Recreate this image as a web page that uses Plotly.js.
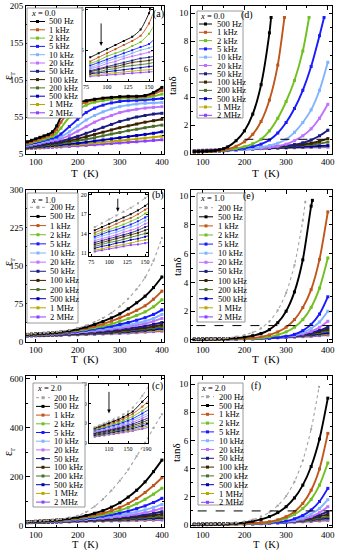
<!DOCTYPE html>
<html><head><meta charset="utf-8">
<script src="https://cdn.plot.ly/plotly-3.0.1.min.js"></script>
<style>html,body{margin:0;padding:0;background:#fff}#chart{width:337px;height:550px}</style>
</head><body><div id="chart"></div>
<script>
// ---------------- DATA ----------------
const T = [80,90,100,110,120,130,140,150,160,180,200,220,240,260,280,300,320,340,360,380,400];
const labelsA = ['500 Hz','1 kHz','2 kHz','5 kHz','10 kHz','20 kHz','50 kHz','100 kHz','200 kHz','500 kHz','1 MHz','2 MHz'];
const labelsBC = ['200 Hz','500 Hz','1 kHz','2 kHz','5 kHz','10 kHz','20 kHz','50 kHz','100 kHz','200 kHz','500 kHz','1 MHz','2 MHz'];
const compA = 'x = 0.0', compB = 'x = 1.0', compC = 'x = 2.0';

// (a) eps_r, x = 0.0
const epsA = [
 [21.5,23.5,25.5,27.5,29.5,31.5,35,43,55,66,74,77,79,80.5,81.5,82.5,83,83,84,88,95],
 [19.5,21.5,23.5,25.5,27.5,29.5,32,38,48,62,70,75,78,80,81,82,82,82,83,86,91],
 [18.5,20,22,23.5,25,27,29,33,40,55,65,71,75,77,79,80,80.5,80.5,81,83,86],
 [17.5,19,20.5,22,23.5,25,26.5,28,32,42,52,61,67,71,74,76,77,77.5,78,79,80],
 [16.5,18,19.5,21,22,23.5,25,26,28,35,43,51,57,62,66,69,71,72.5,73.5,74,74.5],
 [16,17,18.5,19.5,21,22,23,24,25.5,30,36,42,48,53,57,61,63.5,65.5,67,68,69],
 [15,16,17,18,19,20,21,21.5,22.5,25.5,29,33,37,41,45,49,52,55,57,59,60],
 [14.5,15.5,16.5,17,18,19,19.5,20,21,23,25.5,28.5,31.5,34.5,37.5,40.5,43,45.5,48,50,52],
 [14,14.5,15.5,16,17,17.5,18,18.5,19.5,21,23,25,27,29.5,32,34,36.5,38.5,40.5,42.5,44],
 [13.5,14,14.5,15,15.5,16,16.5,17,17.5,18.5,19.5,21,22.5,24,25.5,27,28.5,30,31.5,33,35],
 [12.8,13.2,13.6,14,14.4,14.8,15.2,15.5,16,16.8,17.7,18.7,19.8,21,22,23,24.2,25.4,26.5,27.7,29],
 [12.3,12.6,12.9,13.2,13.5,13.8,14.1,14.4,14.7,15.3,16,16.7,17.5,18.3,19.1,19.9,20.8,21.6,22.4,23.3,24.2]
];
// (d) tan delta, x = 0.0
const tanA = [
 [0.12,0.13,0.14,0.15,0.17,0.2,0.25,0.33,0.46,0.9,1.6,2.8,4.9,8.6],
 [0.1,0.11,0.12,0.13,0.15,0.17,0.2,0.24,0.3,0.5,0.82,1.36,2.27,3.8,6.3],
 [0.1,0.11,0.12,0.13,0.14,0.16,0.18,0.21,0.25,0.34,0.47,0.68,1.0,1.6,2.5,3.7,5.2,7.3],
 [0.1,0.11,0.12,0.13,0.14,0.15,0.17,0.19,0.22,0.28,0.36,0.48,0.65,0.95,1.45,2.2,3.2,4.5,6.2,8.4],
 [0.1,0.11,0.12,0.13,0.14,0.15,0.16,0.18,0.2,0.25,0.3,0.35,0.43,0.55,0.72,1.0,1.5,2.2,3.1,4.5,6.5],
 [0.1,0.11,0.12,0.13,0.14,0.15,0.16,0.17,0.19,0.23,0.27,0.32,0.36,0.42,0.5,0.65,0.9,1.25,1.75,2.5,3.5],
 [0.12,0.13,0.14,0.15,0.16,0.17,0.18,0.19,0.21,0.25,0.29,0.34,0.4,0.45,0.5,0.55,0.62,0.75,0.95,1.25,1.65],
 [0.13,0.14,0.15,0.16,0.17,0.18,0.19,0.2,0.22,0.26,0.3,0.35,0.39,0.43,0.48,0.52,0.57,0.63,0.72,0.86,1.05],
 [0.14,0.15,0.16,0.17,0.18,0.19,0.2,0.21,0.23,0.26,0.3,0.34,0.37,0.41,0.45,0.49,0.53,0.58,0.63,0.7,0.8],
 [0.15,0.16,0.17,0.18,0.19,0.2,0.21,0.22,0.23,0.26,0.28,0.31,0.34,0.36,0.39,0.41,0.44,0.46,0.49,0.52,0.55],
 [0.17,0.18,0.19,0.2,0.21,0.22,0.23,0.24,0.25,0.27,0.29,0.31,0.33,0.35,0.37,0.39,0.41,0.43,0.45,0.47,0.5],
 [0.2,0.21,0.22,0.23,0.24,0.25,0.26,0.27,0.28,0.3,0.32,0.33,0.35,0.36,0.38,0.39,0.4,0.41,0.42,0.43,0.45]
];
const tanEndA_T = [264,296,355,391,null,null,null,null,null,null,null,null];
const tanEndA_V = [9.7,9.7,9.7,9.7,null,null,null,null,null,null,null,null];

// (b) eps_r, x = 1.0
const epsB = [
 [15,15.6,16.2,16.8,17.4,18,18.7,19.5,20.5,23,27,32,39,47,57,70,85,104,127,160,205],
 [14.5,15,15.5,16,16.5,17,17.6,18.3,19.2,21.5,25,29,34,40,47,55,65,77,90,107,128],
 [14.1,14.6,15,15.5,16,16.4,17,17.7,18.4,20.5,23.5,26.5,30.5,35,40.5,47,54,62,71,84,100],
 [13.8,14.2,14.6,15,15.4,15.9,16.4,17.1,17.7,19.6,22,24.5,27.5,31,35,40,45.5,52,59,69,83],
 [13.5,13.9,14.3,14.6,15,15.4,15.9,16.5,17,18.6,20.5,22.5,25,27.5,30.5,34,38,42.5,47.5,54,63],
 [13.2,13.6,13.9,14.2,14.6,15,15.4,16,16.5,17.8,19.5,21,23,25,27.5,30,33,36.5,40.5,46,54],
 [12.9,13.2,13.5,13.8,14.2,14.5,14.9,15.5,15.9,17,18.4,19.7,21.2,23,24.9,27,29.5,32.5,36,40.5,46],
 [12.6,12.9,13.2,13.5,13.8,14.1,14.5,15,15.4,16.3,17.4,18.5,19.7,20.9,22.4,24,26,28.3,31,34.3,38],
 [12.3,12.6,12.9,13.2,13.5,13.8,14.1,14.5,14.9,15.7,16.6,17.5,18.5,19.6,20.8,22,23.6,25.4,27.6,30.1,33],
 [12,12.3,12.6,12.8,13.1,13.4,13.7,14,14.4,15.1,15.9,16.7,17.5,18.4,19.4,20.5,21.8,23.3,25,27,29],
 [11.7,12,12.2,12.5,12.7,13,13.2,13.5,13.8,14.4,15.1,15.8,16.5,17.2,18,19,20,21.2,22.6,24.2,26],
 [11.4,11.6,11.9,12.1,12.3,12.5,12.8,13,13.3,13.8,14.4,15,15.6,16.2,16.9,17.7,18.5,19.4,20.5,21.7,23],
 [11.2,11.4,11.6,11.8,12,12.2,12.3,12.5,12.7,13.2,13.7,14.2,14.7,15.3,15.9,16.5,17.2,18,18.9,19.9,21]
];
// (e) tan delta, x = 1.0
const tanB = [
 [0.05,0.05,0.06,0.06,0.07,0.08,0.09,0.11,0.14,0.23,0.35,0.52,0.81,1.29,2.06,3.27,5.2,8.3],
 [0.04,0.04,0.05,0.05,0.06,0.06,0.07,0.08,0.1,0.14,0.2,0.3,0.45,0.72,1.2,2.0,3.34,5.57,9.3],
 [0.03,0.03,0.04,0.04,0.05,0.05,0.06,0.06,0.07,0.09,0.11,0.15,0.22,0.35,0.56,0.89,1.42,2.25,3.5,5.6,8.9],
 [0.03,0.03,0.03,0.04,0.04,0.04,0.05,0.05,0.06,0.07,0.08,0.1,0.14,0.22,0.35,0.56,0.89,1.42,2.26,3.6,5.7],
 [0.03,0.03,0.03,0.03,0.04,0.04,0.04,0.05,0.05,0.06,0.07,0.08,0.1,0.12,0.17,0.25,0.39,0.65,1.08,1.8,3.0],
 [0.03,0.03,0.03,0.03,0.03,0.04,0.04,0.04,0.05,0.05,0.06,0.08,0.1,0.13,0.17,0.24,0.35,0.52,0.8,1.25,2.0],
 [0.03,0.03,0.03,0.03,0.03,0.04,0.04,0.04,0.05,0.05,0.06,0.08,0.1,0.13,0.16,0.22,0.3,0.42,0.6,0.88,1.3],
 [0.04,0.04,0.04,0.04,0.04,0.05,0.05,0.05,0.06,0.07,0.08,0.1,0.12,0.15,0.19,0.24,0.3,0.38,0.5,0.66,0.9],
 [0.04,0.04,0.05,0.05,0.05,0.05,0.06,0.06,0.07,0.08,0.09,0.11,0.13,0.16,0.2,0.25,0.3,0.37,0.46,0.58,0.75],
 [0.05,0.05,0.05,0.05,0.06,0.06,0.06,0.07,0.07,0.08,0.1,0.11,0.13,0.16,0.19,0.23,0.28,0.34,0.41,0.5,0.62],
 [0.05,0.05,0.05,0.06,0.06,0.06,0.07,0.07,0.08,0.09,0.1,0.11,0.13,0.15,0.18,0.21,0.26,0.3,0.35,0.42,0.5],
 [0.06,0.06,0.06,0.06,0.07,0.07,0.07,0.08,0.08,0.09,0.1,0.11,0.13,0.15,0.17,0.2,0.23,0.27,0.3,0.36,0.42],
 [0.06,0.06,0.07,0.07,0.07,0.07,0.08,0.08,0.08,0.09,0.1,0.11,0.12,0.14,0.16,0.18,0.2,0.23,0.26,0.3,0.35]
];
const tanEndB_T = [346,363,null,null,null,null,null,null,null,null,null,null,null];
const tanEndB_V = [9.6,9.7,null,null,null,null,null,null,null,null,null,null,null];

// (c) eps_r, x = 2.0
const epsC = [
 [18,19,20,21,22,23,24.5,26,28,34,42,57,80,110,145,185,230,285,340,400,456],
 [17.5,18.4,19.3,20.2,21.1,22,23.2,24.5,26,31,36,43,52,63,77,95,118,146,180,222,269],
 [17.2,18,18.8,19.6,20.4,21.2,22.3,23.5,24.8,28.5,33,38,45,53,63,76,92,112,137,165,197],
 [16.8,17.5,18.2,19,19.7,20.4,21.3,22.4,23.5,26.5,30,35,40,46,54,64,76,91,109,130,154],
 [16.4,17.1,17.7,18.4,19,19.7,20.5,21.4,22.4,25,28,31,35,40,46,53,61,71,82,96,113],
 [16,16.6,17.2,17.8,18.4,19,19.8,20.6,21.5,23.7,26,29,32,36,40,45,51,58,66,76,88],
 [15.6,16.2,16.7,17.3,17.8,18.4,19.1,19.8,20.6,22.6,25,27,29.5,32,35,39,43.5,49,55,63,72],
 [15.2,15.7,16.2,16.7,17.2,17.7,18.3,19,19.7,21.5,23.5,25,27,29,31.5,34,37.5,41.5,46,51.5,58],
 [14.8,15.3,15.8,16.2,16.7,17.2,17.7,18.3,18.9,20.5,22.5,24,25.5,27,29,31,33.5,36.5,40,44,48],
 [14.4,14.8,15.3,15.7,16.1,16.6,17.1,17.6,18.1,19.6,21.3,22.6,24,25.3,26.6,28,29.8,32,34.5,37,40],
 [14,14.4,14.8,15.2,15.6,16,16.4,16.9,17.4,18.7,20.2,21.4,22.6,23.6,24.6,25.5,27,28.5,30.3,32,34],
 [13.6,14,14.4,14.7,15.1,15.5,15.9,16.3,16.7,17.9,19.2,20.2,21,21.8,22.5,23,24.1,25.3,26.5,27.7,29],
 [13.2,13.6,13.9,14.3,14.6,15,15.4,15.8,16.2,17.2,18.3,19,19.6,20.2,20.6,21,21.8,22.6,23.5,24.2,25]
];
// (f) tan delta, x = 2.0
const tanC = [
 [0.05,0.05,0.06,0.06,0.07,0.07,0.08,0.09,0.11,0.16,0.25,0.39,0.6,0.9,1.38,2.05,3.07,4.57,6.8],
 [0.04,0.04,0.05,0.05,0.05,0.06,0.06,0.07,0.08,0.12,0.18,0.27,0.4,0.6,0.88,1.3,1.92,2.83,4.15,6.1,9.0],
 [0.03,0.03,0.04,0.04,0.04,0.05,0.05,0.05,0.06,0.08,0.1,0.13,0.16,0.23,0.37,0.59,0.95,1.53,2.47,3.98,6.5],
 [0.03,0.03,0.03,0.04,0.04,0.04,0.04,0.05,0.05,0.06,0.08,0.1,0.14,0.2,0.3,0.48,0.75,1.17,1.82,2.83,4.4],
 [0.03,0.03,0.03,0.03,0.04,0.04,0.04,0.04,0.05,0.06,0.07,0.08,0.11,0.14,0.19,0.28,0.44,0.68,1.07,1.67,2.6],
 [0.03,0.03,0.03,0.03,0.03,0.04,0.04,0.04,0.04,0.05,0.06,0.07,0.09,0.12,0.17,0.24,0.35,0.52,0.78,1.17,1.8],
 [0.03,0.03,0.03,0.03,0.03,0.04,0.04,0.04,0.04,0.05,0.06,0.07,0.09,0.12,0.16,0.22,0.3,0.42,0.6,0.88,1.3],
 [0.04,0.04,0.04,0.04,0.04,0.05,0.05,0.05,0.06,0.07,0.08,0.1,0.12,0.15,0.19,0.24,0.31,0.41,0.54,0.72,0.95],
 [0.04,0.04,0.05,0.05,0.05,0.05,0.06,0.06,0.07,0.08,0.09,0.11,0.13,0.16,0.19,0.23,0.3,0.38,0.48,0.6,0.75],
 [0.05,0.05,0.05,0.05,0.06,0.06,0.06,0.07,0.07,0.08,0.1,0.11,0.13,0.15,0.18,0.22,0.27,0.34,0.41,0.5,0.6],
 [0.05,0.05,0.05,0.06,0.06,0.06,0.07,0.07,0.08,0.09,0.1,0.11,0.13,0.15,0.17,0.2,0.25,0.3,0.36,0.43,0.5],
 [0.06,0.06,0.06,0.06,0.07,0.07,0.07,0.08,0.08,0.09,0.1,0.11,0.12,0.14,0.16,0.19,0.22,0.26,0.31,0.36,0.42],
 [0.06,0.06,0.07,0.07,0.07,0.07,0.08,0.08,0.08,0.09,0.1,0.11,0.12,0.13,0.15,0.17,0.2,0.23,0.26,0.3,0.34]
];
const tanEndC_T = [379,null,null,null,null,null,null,null,null,null,null,null,null];
const tanEndC_V = [9.8,null,null,null,null,null,null,null,null,null,null,null,null];

// ---------------- STYLE ----------------
const colorOf = {'200 Hz':'#a3a3a3','500 Hz':'#000000','1 kHz':'#c0561c','2 kHz':'#70c020','5 kHz':'#1a1aff',
 '10 kHz':'#80b4ff','20 kHz':'#c070ff','50 kHz':'#1c1c80','100 kHz':'#3a2200','200 kHz':'#4c6e28',
 '500 kHz':'#0000b8','1 MHz':'#b8a800','2 MHz':'#8a40ff'};
const F = '"Liberation Serif", "Times New Roman", serif';
const W = 337, H = 550;
const PX = x => x / W, PY = y => 1 - y / H;

const traces = [], shapes = [], annotations = [];
const layout = {width: W, height: H, margin:{l:0,r:0,t:0,b:0}, paper_bgcolor:'#fff', plot_bgcolor:'rgba(0,0,0,0)',
  showlegend:false, font:{family:F, color:'#000'}};

function axName(i, c){ return c + (i === 1 ? '' : i); }
function setAxes(i, xd, yd, xr, yr, xo, yo){
  const base = {showgrid:false, zeroline:false, showline:true, linecolor:'#000', linewidth:1, mirror:'ticks',
    ticks:'inside', ticklen:3.5, tickwidth:1, tickcolor:'#000', fixedrange:true,
    tickfont:{family:F, size:9, color:'#000'}};
  layout['xaxis' + (i===1?'':i)] = Object.assign({}, base, {domain:[PX(xd[0]),PX(xd[1])], range:xr, anchor:axName(i,'y')}, xo);
  layout['yaxis' + (i===1?'':i)] = Object.assign({}, base, {domain:[PY(yd[1]),PY(yd[0])], range:yr, anchor:axName(i,'x')}, yo);
}
function toPx(i, xv, yv){
  const xa = layout['xaxis' + i], ya = layout['yaxis' + i];
  const x0 = xa.domain[0]*W, x1 = xa.domain[1]*W, yt = (1-ya.domain[1])*H, yb = (1-ya.domain[0])*H;
  return [x0 + (xv - xa.range[0])/(xa.range[1]-xa.range[0])*(x1-x0), yb - (yv - ya.range[0])/(ya.range[1]-ya.range[0])*(yb-yt)];
}
function addSeries(i, data, labels, endT, endV, inset){
  for (let k = data.length - 1; k >= 0; k--) {
    const ys = data[k].slice(), xs = T.slice(0, ys.length);
    if (endT && endT[k] != null) { xs.push(endT[k]); ys.push(endV[k]); }
    const lab = labels[k], grey = lab === '200 Hz';
    traces.push({type:'scatter', mode:'lines+markers', x:xs, y:ys, xaxis:axName(i,'x'), yaxis:axName(i,'y'),
      hoverinfo:'skip', name:lab,
      line:{color:colorOf[lab], width: inset ? 0.9 : (grey ? 1.1 : 1.9), shape:'spline', smoothing:0.7, dash: grey ? 'dot' : 'solid'},
      marker:{color:colorOf[lab], size: inset ? 2 : (grey ? 2 : 3), symbol:'square'}});
  }
}
function addLegend(box, titleY, y0, step, lx0, lx1, tx, labels, title){
  shapes.push({type:'rect', xref:'paper', yref:'paper', x0:PX(box[0]), x1:PX(box[1]), y0:PY(box[3]), y1:PY(box[2]),
    line:{color:'#808080', width:0.8}, fillcolor:'#ffffff', layer:'above'});
  annotations.push({xref:'paper', yref:'paper', x:PX(box[0]+2.5), y:PY(titleY), xanchor:'left', yanchor:'middle', showarrow:false,
    borderpad:0, text:'<i>x</i>' + title.slice(1), font:{family:F, size:8.5, color:'#000'}});
  labels.forEach((lab, k) => {
    const y = y0 + k * step, c = colorOf[lab], mx = (lx0 + lx1) / 2;
    shapes.push({type:'line', xref:'paper', yref:'paper', x0:PX(lx0), x1:PX(lx1), y0:PY(y), y1:PY(y),
      line:{color:c, width:1, dash: lab === '200 Hz' ? 'dot' : 'solid'}, layer:'above'});
    shapes.push({type:'rect', xref:'paper', yref:'paper', x0:PX(mx-1.5), x1:PX(mx+1.5), y0:PY(y+1.5), y1:PY(y-1.5),
      line:{width:0}, fillcolor:c, layer:'above'});
    annotations.push({xref:'paper', yref:'paper', x:PX(tx), y:PY(y), xanchor:'left', yanchor:'middle', showarrow:false,
      borderpad:0, text:lab, font:{family:F, size:8.5, color:'#000'}});
  });
}
function txt(x, y, s, size, angle, anchor){
  annotations.push({xref:'paper', yref:'paper', x:PX(x), y:PY(y), xanchor:anchor||'center', yanchor:'middle', showarrow:false,
    text:s, textangle:angle||0, borderpad:0, font:{family:F, size:size, color:'#000'}});
}

// ---------------- PANELS ----------------
const LX = [26,164], RX = [191,332];
const R1 = [6,154], R2 = [190,342], R3 = [376,527];
const xMain = {tick0:0, dtick:100, ticklabelstandoff:-1, minor:{ticks:'inside', ticklen:2, tick0:0, dtick:50, tickcolor:'#000'}};
const yTan = {tick0:0, dtick:2, minor:{ticks:'inside', ticklen:2, tick0:0, dtick:1, tickcolor:'#000'}};

setAxes(1, LX, R1, [77,405], [5,205], xMain, {tick0:5, dtick:50, minor:{ticks:'inside', ticklen:2, tick0:5, dtick:25, tickcolor:'#000'}});
setAxes(2, RX, R1, [72,410], [-0.05,10.52], xMain, yTan);
setAxes(3, LX, R2, [77,405], [-0.6,300], xMain, {tick0:0, dtick:75, minor:{ticks:'inside', ticklen:2, tick0:0, dtick:37.5, tickcolor:'#000'}});
setAxes(4, RX, R2, [72,410], [-0.14,10.42], xMain, yTan);
setAxes(5, LX, R3, [77,405], [-4,612], xMain, {tick0:0, dtick:200, minor:{ticks:'inside', ticklen:2, tick0:0, dtick:100, tickcolor:'#000'}});
setAxes(6, RX, R3, [72,410], [-0.14,10.57], xMain, yTan);
// insets
const insetTick = {tickfont:{family:F, size:6, color:'#000'}, ticklen:2};
setAxes(7, [86,152.7], [8,81], [75,154.4], [10,45.5], Object.assign({tickvals:[75,100,125,150]}, insetTick), Object.assign({tickvals:[25,45]}, insetTick));
setAxes(8, [89,148], [193,256], [72,154], [10.5,20.3], Object.assign({tickvals:[75,100,125,150]}, insetTick), Object.assign({tickvals:[11,14,17,20]}, insetTick));
setAxes(9, [89,148], [384,443], [68,192], [10,40], Object.assign({tickvals:[110,150,190]}, insetTick), Object.assign({tickvals:[10,20,30,40]}, insetTick));

[[86,152.7,8,81],[89,148,193,256],[89,148,384,443]].forEach(b => shapes.push({type:'rect', xref:'paper', yref:'paper',
  x0:PX(b[0]), x1:PX(b[1]), y0:PY(b[3]), y1:PY(b[2]), line:{width:0}, fillcolor:'#fff', layer:'below'}));

addSeries(1, epsA, labelsA);
addSeries(2, tanA, labelsA, tanEndA_T, tanEndA_V);
addSeries(3, epsB, labelsBC);
addSeries(4, tanB, labelsBC, tanEndB_T, tanEndB_V);
addSeries(5, epsC, labelsBC);
addSeries(6, tanC, labelsBC, tanEndC_T, tanEndC_V);
addSeries(7, epsA, labelsA, null, null, true);
addSeries(8, epsB, labelsBC, null, null, true);
addSeries(9, epsC, labelsBC, null, null, true);

// tan delta = 1 reference lines
[[2,200],[4,85],[6,88]].forEach(p => shapes.push({type:'line', xref:axName(p[0],'x'), yref:axName(p[0],'y'),
  x0:p[1], x1:410, y0:1, y1:1, line:{color:'#000', width:1, dash:'dash'}}));

// inset arrows (drawn as shapes)
[[7,93,38,27],[8,112,19.4,17.4],[9,110,36,25]].forEach(a => {
  const top = toPx(a[0], a[1], a[2]), tip = toPx(a[0], a[1], a[3]);
  shapes.push({type:'line', xref:'paper', yref:'paper', x0:PX(top[0]), x1:PX(top[0]), y0:PY(top[1]), y1:PY(tip[1]-3),
    line:{color:'#000', width:0.9}, layer:'above'});
  shapes.push({type:'path', xref:'paper', yref:'paper', layer:'above', fillcolor:'#000', line:{width:0},
    path:'M'+PX(tip[0]-1.8)+','+PY(tip[1]-4)+' L'+PX(tip[0]+1.8)+','+PY(tip[1]-4)+' L'+PX(tip[0])+','+PY(tip[1])+' Z'});
});

// legends
addLegend([27,82,8,118], 13, 21.5, 8.3, 30, 45, 48, labelsA, compA);
addLegend([197,243,11,118], 16, 24, 8.3, 199, 212, 216, labelsA, compA);
addLegend([27,78,193,323], 200, 207.3, 9.14, 30, 46, 49, labelsBC, compB);
addLegend([197,245,193,322], 198, 207.7, 9.1, 199, 213, 217, labelsBC, compB);
addLegend([33,85,383,507], 388, 397.7, 8.7, 36, 50, 53, labelsBC, compC);
addLegend([198,243,383,505], 387.5, 396.7, 8.8, 201, 214, 218, labelsBC, compC);

// panel labels
txt(158, 14, '(a)', 10); txt(247, 15, '(d)', 10);
txt(158, 195, '(b)', 10); txt(248, 196, '(e)', 10);
txt(157, 386, '(c)', 10); txt(256, 386, '(f)', 10);

// axis titles
const TK = 'T\u00a0 (K)';
txt(85, 173, TK, 11); txt(266, 173, TK, 11);
txt(85, 359, TK, 11); txt(266, 359, TK, 11);
txt(85, 545, TK, 10.5); txt(266, 545, TK, 10.5);
txt(9, 76, 'ε<sub>r</sub>', 12, -90); txt(9, 262, 'ε<sub>r</sub>', 12, -90); txt(9, 452, 'ε<sub>r</sub>', 12, -90);
txt(172, 86, 'tanδ', 11, -90); txt(177, 267, 'tanδ', 11, -90); txt(176, 453, 'tanδ', 11, -90);

layout.shapes = shapes;
layout.annotations = annotations;
Plotly.newPlot('chart', traces, layout, {staticPlot:true, displayModeBar:false});
</script>
</body></html>
